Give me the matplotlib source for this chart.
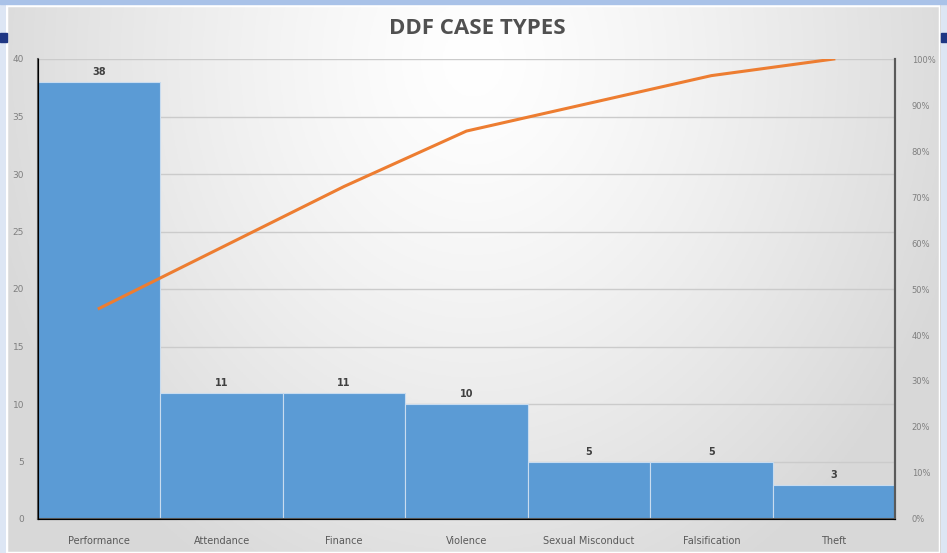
import numpy as np
import matplotlib
matplotlib.use('Agg')
import matplotlib.pyplot as plt
from matplotlib.patches import Rectangle
from matplotlib import ticker

# data
categories = ['Performance', 'Attendance', 'Finance', 'Violence',
              'Sexual Misconduct', 'Falsification', 'Theft']
counts = [38, 11, 11, 10, 5, 5, 3]

cum_pct = np.cumsum(counts) / np.sum(counts) * 100

W, H = 947, 553
fig = plt.figure(figsize=(W / 100, H / 100), dpi=100)
fig.patch.set_facecolor('#dde6f4')

# slide bits around the chart
fig.patches.append(Rectangle((0, 1 - 4 / H), 1, 4 / H, transform=fig.transFigure,
                             color='#a9c2e8', zorder=0))
fig.patches.append(Rectangle((0, 1 - 42 / H), 7 / W, 9 / H, transform=fig.transFigure,
                             color='#1f3784', zorder=0))
fig.patches.append(Rectangle((941 / W, 1 - 42 / H), 6 / W, 9 / H, transform=fig.transFigure,
                             color='#1f3784', zorder=0))

# chart panel with soft gradient
bg = fig.add_axes([6 / W, 0, (940 - 6) / W, (H - 5) / H])
yy, xx = np.mgrid[0:1:200j, 0:1:300j]
dist = np.sqrt(((xx - 0.5) * 1.2) ** 2 + ((yy - 0.1) * 0.6) ** 2)
shade = 1.0 - 0.15 * np.clip(dist / 0.65, 0, 1) ** 1.3
bg.imshow(np.dstack([shade, shade, shade]), aspect='auto', extent=[0, 1, 0, 1])
bg.set_xlim(0, 1)
bg.set_ylim(0, 1)
bg.axis('off')
bg.add_patch(Rectangle((0, 0), 1, 1, fill=False, ec='white', lw=2.5))

ax = fig.add_axes([38 / W, (H - 519) / H, (895 - 38) / W, (519 - 59) / H])
ax.patch.set_alpha(0)
x = np.arange(len(categories))
ax.bar(x, counts, width=1.0, color='#5b9bd5', edgecolor='#c9dcef', linewidth=0.8, zorder=2)
for xi, c in zip(x, counts):
    ax.text(xi, c + 0.4, str(c), ha='center', va='bottom', fontsize=7,
            color='#404040', fontweight='bold')

ax.set_xlim(-0.5, len(categories) - 0.5)
ax.set_ylim(0, 40)
ax.set_yticks(np.arange(0, 41, 5))
ax.yaxis.grid(True, color='#cbcbcb', lw=1, zorder=0)
ax.set_axisbelow(True)
ax.set_xticks(x)
ax.set_xticklabels(categories, fontsize=7, color='#595959')
ax.tick_params(axis='x', length=0, pad=12)
ax.tick_params(axis='y', length=0, labelsize=6.5, labelcolor='#7f7f7f', pad=10)
ax.spines['top'].set_visible(False)
for s in ['left', 'bottom', 'right']:
    ax.spines[s].set_color('#5a5a5a')
    ax.spines[s].set_linewidth(1.5)

ax2 = ax.twinx()
ax2.plot(x, cum_pct, color='#ed7d31', lw=2.2, zorder=3)
ax2.set_ylim(0, 100)
ax2.set_yticks(np.arange(0, 101, 10))
ax2.yaxis.set_major_formatter(ticker.FuncFormatter(lambda v, p: '{0:.0f}%'.format(v)))
ax2.tick_params(axis='y', length=0, labelsize=6, labelcolor='#7f7f7f', pad=12)
ax2.spines['top'].set_visible(False)
ax2.spines['right'].set_color('#5a5a5a')
ax2.spines['right'].set_linewidth(1.5)

fig.text(477 / W, 1 - 28 / H, 'DDF CASE TYPES', ha='center', va='center',
         fontsize=16, fontweight='bold', color='#505050', family='Open Sans')

plt.savefig('out.png', dpi=100)
